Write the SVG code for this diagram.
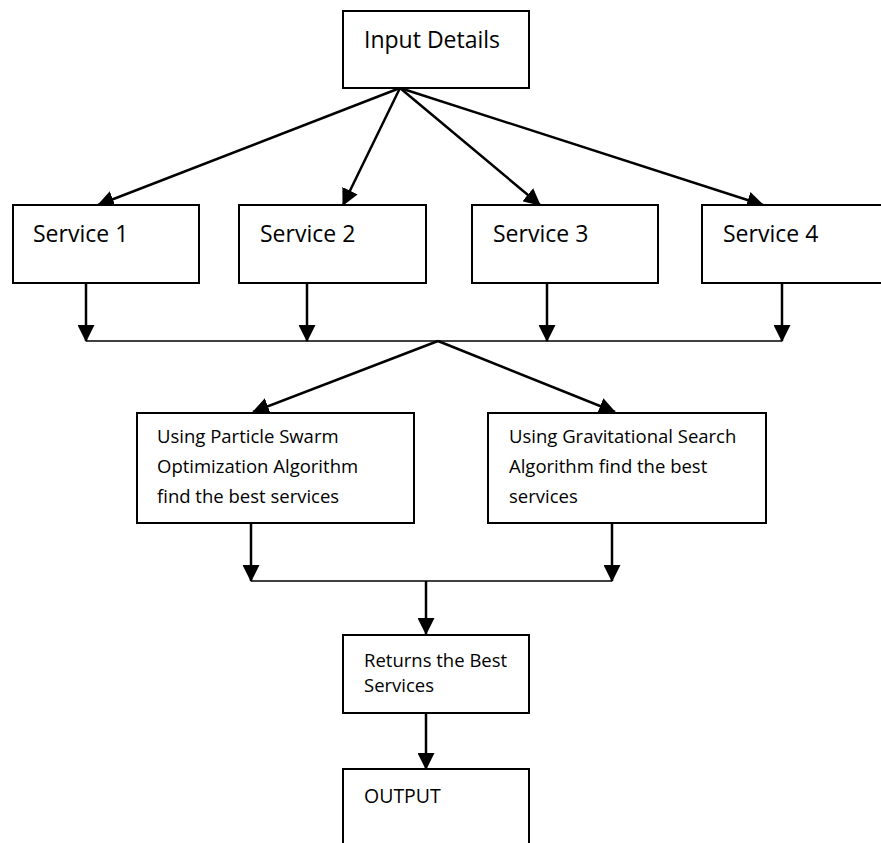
<svg xmlns="http://www.w3.org/2000/svg" width="881" height="843" viewBox="0 0 881 843">
<style>
.box{fill:#fff;stroke:#000;stroke-width:2}
.t{font-family:"Open Sans","Liberation Sans",sans-serif;fill:#000}
.big{font-size:23px}
.sm{font-size:18.5px}
.out{font-size:19.5px}
.arr{stroke:#000;stroke-width:2.5;fill:none;marker-end:url(#ah)}
.bus{stroke:#000;stroke-width:1.6;fill:none}
</style>
<defs>
<marker id="ah" markerUnits="userSpaceOnUse" markerWidth="17" markerHeight="17" viewBox="0 0 16 16" refX="15" refY="8" orient="auto">
<path d="M0,0 L16,8 L0,16 z" fill="#000"/>
</marker>
</defs>
<rect width="881" height="843" fill="#fff"/>
<g id="connectors">
<path class="arr" d="M400,88 L98,205"/>
<path class="arr" d="M400,88 L343,205"/>
<path class="arr" d="M400,88 L540,205"/>
<path class="arr" d="M400,88 L763,205"/>
<path class="arr" d="M86,283 L86,341"/>
<path class="arr" d="M307,283 L307,341"/>
<path class="arr" d="M547,283 L547,341"/>
<path class="arr" d="M782,283 L782,341"/>
<path class="bus" d="M86,341 L782,341"/>
<path class="arr" d="M438,341 L253,412"/>
<path class="arr" d="M438,341 L615,412"/>
<path class="arr" d="M251,523 L251,581"/>
<path class="arr" d="M612,523 L612,581"/>
<path class="bus" d="M251,581 L612,581"/>
<path class="arr" d="M426,581 L426,634"/>
<path class="arr" d="M426,713 L426,769"/>
</g>
<g id="input">
<rect class="box" x="343" y="11" width="186" height="77"/>
<text class="t big" x="364" y="48">Input Details</text>
</g>
<g id="service1">
<rect class="box" x="13" y="205" width="186" height="78"/>
<text class="t big" x="33" y="242">Service 1</text>
</g>
<g id="service2">
<rect class="box" x="239" y="205" width="187" height="78"/>
<text class="t big" x="260" y="242">Service 2</text>
</g>
<g id="service3">
<rect class="box" x="472" y="205" width="186" height="78"/>
<text class="t big" x="493" y="242">Service 3</text>
</g>
<g id="service4">
<rect class="box" x="702" y="205" width="190" height="78"/>
<text class="t big" x="723" y="242">Service 4</text>
</g>
<g id="pso">
<rect class="box" x="137" y="413" width="277" height="110"/>
<text class="t sm" x="157" y="443">Using Particle Swarm</text>
<text class="t sm" x="157" y="473">Optimization Algorithm</text>
<text class="t sm" x="157" y="503">find the best services</text>
</g>
<g id="gsa">
<rect class="box" x="488" y="413" width="278" height="110"/>
<text class="t sm" x="509" y="443">Using Gravitational Search</text>
<text class="t sm" x="509" y="473">Algorithm find the best</text>
<text class="t sm" x="509" y="503">services</text>
</g>
<g id="returns">
<rect class="box" x="343" y="635" width="186" height="78"/>
<text class="t sm" x="364" y="667">Returns the Best</text>
<text class="t sm" x="364" y="692">Services</text>
</g>
<g id="output">
<rect class="box" x="343" y="769" width="186" height="90"/>
<text class="t out" x="364" y="803">OUTPUT</text>
</g>
</svg>
